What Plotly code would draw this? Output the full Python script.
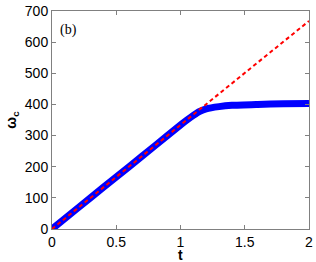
import plotly.graph_objects as go

t_sim = [0, 0.2, 0.4, 0.6, 0.8, 1.0, 1.05, 1.1, 1.15, 1.2, 1.3, 1.4, 1.6, 1.8, 2.0]
omega_sim = [0, 67, 134, 200, 267, 334, 350, 365, 378, 386, 393, 397, 400, 402, 403]
t_lin = [0, 2]
omega_lin = [0, 668]

fig = go.Figure()
fig.add_trace(go.Scatter(x=t_sim, y=omega_sim, mode="lines",
                         line=dict(color="#0000ff", width=7, shape="spline", smoothing=0.6)))
fig.add_trace(go.Scatter(x=t_lin, y=omega_lin, mode="lines",
                         line=dict(color="#ff0000", width=2, dash="4px,3px")))

axis_common = dict(showline=True, mirror="ticks", linecolor="#808080", linewidth=1,
                   ticks="inside", ticklen=4, tickcolor="#808080", showgrid=False,
                   zeroline=False, automargin=False,
                   tickfont=dict(family="Liberation Sans, Arial", size=14, color="#000"))
fig.update_xaxes(range=[0, 2], tickvals=[0, 0.5, 1, 1.5, 2], ticktext=["0", "0.5", "1", "1.5", "2"],
                 **axis_common)
fig.update_yaxes(range=[0, 700], tickvals=[0, 100, 200, 300, 400, 500, 600, 700],
                 title=dict(text="<b>ω<sub>c</sub></b>", font=dict(family="Liberation Sans, Arial", size=14, color="#000"), standoff=4),
                 **axis_common)
fig.add_annotation(x=0.5, y=-0.12, xref="paper", yref="paper", xanchor="center", yanchor="middle",
                   text="<b>t</b>", showarrow=False,
                   font=dict(family="Liberation Sans, Arial", size=14, color="#000"))
fig.add_annotation(x=0.025, y=0.96, xref="paper", yref="paper", xanchor="left", yanchor="top",
                   text="(b)", showarrow=False,
                   font=dict(family="Liberation Serif, Times New Roman", size=14, color="#000"))
fig.update_layout(width=316, height=262, margin=dict(l=52, r=7, t=11, b=33),
                  plot_bgcolor="white", paper_bgcolor="white", showlegend=False)
fig.write_html("out.html", config={"displayModeBar": False},
               post_script="document.body.style.margin='0';document.body.style.overflow='hidden';")
